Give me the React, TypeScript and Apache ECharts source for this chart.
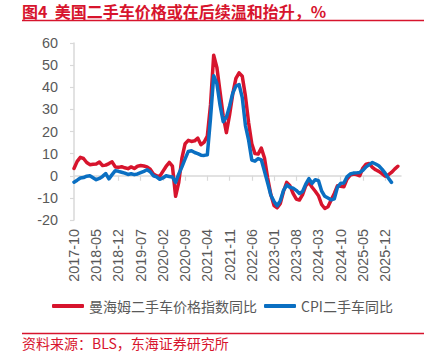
import React, { useEffect, useRef } from "react";
import * as echarts from "echarts";

const START_YEAR = 2017;
const START_MONTH = 10;
const MONTH_COUNT = 104; // 2017-10 .. 2026-05

const months: string[] = [];
for (let k = 0; k < MONTH_COUNT; k++) {
  const m0 = START_MONTH - 1 + k;
  const y = START_YEAR + Math.floor(m0 / 12);
  const m = (m0 % 12) + 1;
  months.push(`${y}-${m < 10 ? "0" + m : m}`);
}

const manheimYoY: number[] = [
  3.3, 6.5, 8.3, 7.8, 6.0, 5.0, 5.2, 5.3, 6.2, 4.6,
  4.8, 5.5, 6.3, 4.0, 3.8, 4.1, 3.6, 3.2, 4.0, 3.3,
  4.3, 4.6, 4.4, 4.0, 3.0, 0.8, 0.0, -0.3, 2.0, 4.2,
  6.0, 4.3, -9.3, -3.0, 8.0, 14.5, 16.0, 15.5, 15.8, 17.0,
  14.0, 15.2, 18.0, 32.0, 54.5, 49.0, 38.0, 27.0, 19.5, 27.5,
  37.0, 44.0, 46.5, 45.0, 36.0, 24.0, 14.5, 10.0, 9.8, 12.5,
  8.0, -1.0, -8.5, -13.5, -14.5, -12.5, -7.0, -3.0, -4.5, -8.0,
  -10.5, -11.0, -8.5, -4.5, -3.0, -5.2, -7.0, -9.0, -13.0, -14.8,
  -14.0, -11.0, -8.0, -4.5, -4.8, -5.0, -1.5, 0.3, 0.8, 0.5,
  0.0, 3.5, 5.2, 5.5, 3.8, 2.7, 2.0, 1.0, -0.2, 0.4,
  1.5, 3.0, 4.3,
];

const cpiUsedCarYoY: number[] = [
  -2.9, -2.0, -1.0, -0.8, -0.2, 0.0, -0.9, -1.8, -1.2, -0.3,
  1.0, -1.4, 0.5, 2.3, 2.0, 1.6, 1.2, 0.6, 0.9, 0.5,
  0.8, 1.4, 2.0, 2.7, 1.8, 0.0, -0.5, -1.6, -1.0, 0.0,
  -0.3, -0.6, -3.0, 0.8, 4.0, 7.6, 11.0, 11.3, 10.5, 10.0,
  9.3, 9.2, 9.5, 26.0, 45.2, 41.7, 31.9, 24.4, 26.4, 31.4,
  37.3, 40.5, 41.2, 35.3, 22.7, 16.1, 7.1, 6.6, 7.8, 7.2,
  2.0, -3.3, -8.8, -11.6, -13.6, -11.2, -6.6, -4.2, -5.2, -5.6,
  -6.6, -8.0, -7.1, -3.8, -1.3, -3.5, -1.8, -2.2, -6.9, -9.3,
  -10.1, -10.9, -10.4, -5.1, -3.4, -3.3, -0.5, 0.8, 1.2, 1.3,
  1.5, 2.5, 4.0, 5.0, 6.0, 5.3, 4.5, 3.0, 1.2, -1.0,
  -3.0,
];

const seriesNames = ["曼海姆二手车价格指数同比", "CPI二手车同比"];
const titleText = "图4  美国二手车价格或在后续温和抬升，%";
const sourceText = "资料来源：BLS，东海证券研究所";

const RED = "#D7142D";
const BLUE = "#0A6FC2";
const GRAY_TEXT = "#595959";
const AXIS_GRAY = "#D9D9D9";
const CJK = "'Noto Sans CJK SC', sans-serif";
const LATIN = "'Liberation Sans', Arial, sans-serif";

export default function App() {
  const ref = useRef<HTMLDivElement>(null);
  useEffect(() => {
    if (!ref.current) return;
    const chart = echarts.init(ref.current, null, { renderer: "svg" });
    chart.setOption({
      animation: false,
      backgroundColor: "#ffffff",
      grid: { left: 74, right: 30, top: 43, bottom: 132, containLabel: false },
      legend: {
        data: seriesNames,
        left: 52,
        top: 299,
        padding: 0,
        icon: "roundRect",
        itemWidth: 32,
        itemHeight: 4,
        itemGap: 7,
        textStyle: { color: GRAY_TEXT, fontSize: 14, fontFamily: CJK },
      },
      xAxis: [
        {
          type: "category",
          data: months,
          boundaryGap: false,
          position: "bottom",
          axisLine: { show: false, onZero: false },
          axisTick: { show: false },
          axisLabel: {
            rotate: 90,
            interval: 6,
            margin: 9,
            color: GRAY_TEXT,
            fontSize: 14.4,
            fontFamily: LATIN,
          },
        },
        {
          type: "category",
          data: months,
          boundaryGap: false,
          position: "bottom",
          axisLine: { show: true, onZero: true, lineStyle: { color: AXIS_GRAY, width: 1.5 } },
          axisTick: { show: true, interval: 6, length: 5, lineStyle: { color: AXIS_GRAY, width: 1.2 } },
          axisLabel: { show: false },
        },
      ],
      yAxis: {
        type: "value",
        min: -20,
        max: 60,
        interval: 10,
        axisLine: { show: true, onZero: false, lineStyle: { color: AXIS_GRAY, width: 1.5 } },
        axisTick: { show: true, length: 4, lineStyle: { color: AXIS_GRAY, width: 1.2 } },
        splitLine: { show: false },
        axisLabel: { margin: 16, color: GRAY_TEXT, fontSize: 14.4, fontFamily: LATIN },
      },
      series: [
        {
          name: seriesNames[0],
          type: "line",
          data: manheimYoY,
          showSymbol: false,
          symbol: "none",
          lineStyle: { color: RED, width: 3.5, join: "round", cap: "round" },
          itemStyle: { color: RED },
          z: 2,
        },
        {
          name: seriesNames[1],
          type: "line",
          data: cpiUsedCarYoY,
          showSymbol: false,
          symbol: "none",
          lineStyle: { color: BLUE, width: 3.5, join: "round", cap: "round" },
          itemStyle: { color: BLUE },
          z: 3,
        },
      ],
      graphic: [
        {
          type: "text",
          x: 22,
          y: 10.5,
          style: {
            text: titleText,
            fill: RED,
            fontSize: 16,
            lineHeight: 16,
            fontWeight: "bold",
            fontFamily: CJK,
            verticalAlign: "middle",
            align: "left",
          },
        },
        {
          type: "line",
          shape: { x1: 22, y1: 20.5, x2: 424, y2: 20.5 },
          style: { stroke: RED, lineWidth: 1.3 },
        },
        {
          type: "line",
          shape: { x1: 22, y1: 333.5, x2: 424, y2: 333.5 },
          style: { stroke: RED, lineWidth: 1.3 },
        },
        {
          type: "text",
          x: 22,
          y: 342.5,
          style: {
            text: sourceText,
            fill: RED,
            fontSize: 14,
            lineHeight: 14,
            fontFamily: CJK,
            verticalAlign: "middle",
            align: "left",
          },
        },
      ],
    });
    return () => chart.dispose();
  }, []);
  return (
    <div
      ref={ref}
      style={{ position: "absolute", left: 0, top: 0, width: 431, height: 352, background: "#fff" }}
    />
  );
}
